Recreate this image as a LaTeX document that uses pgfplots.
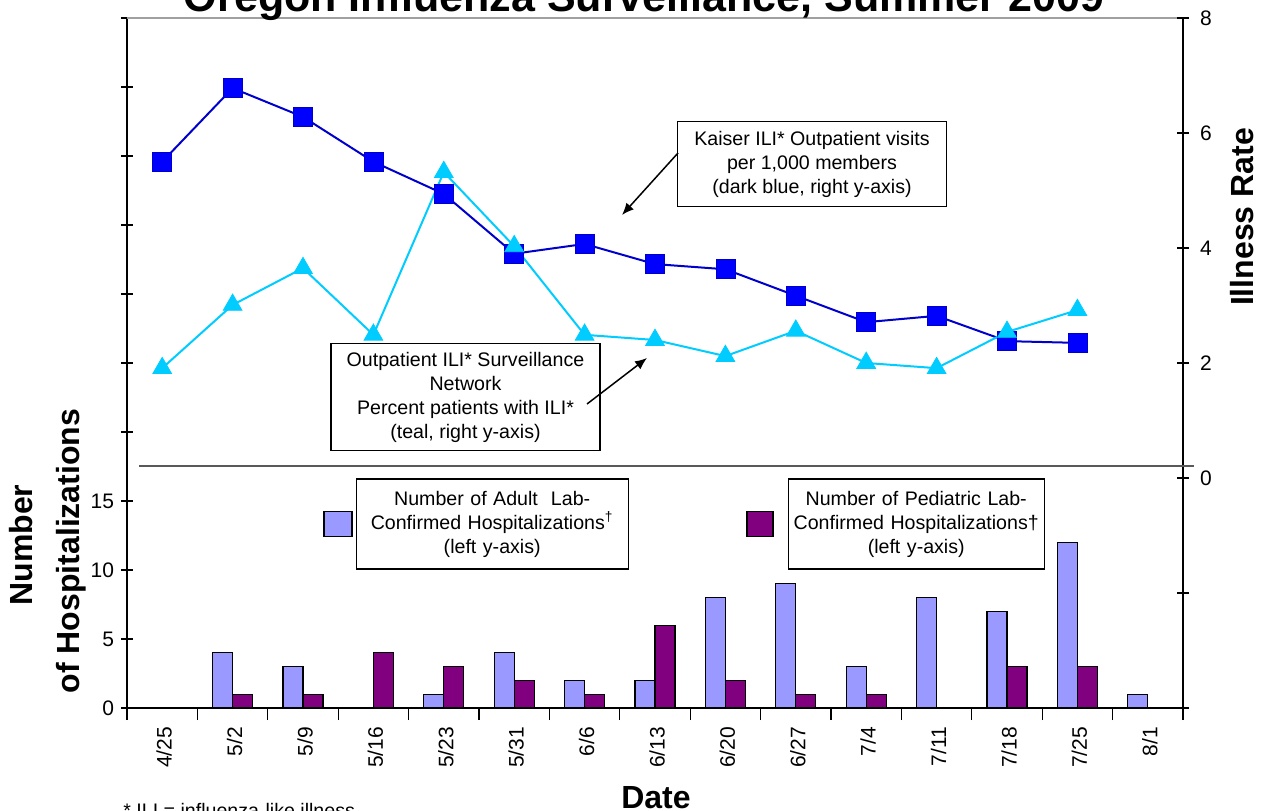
\documentclass[border=0pt]{standalone}
\usepackage{fontspec}
\setmainfont{Liberation Sans}
\usepackage{pgfplots}
\pgfplotsset{compat=1.18}
\usetikzlibrary{arrows.meta}
\definecolor{adult}{HTML}{9999FF}
\definecolor{ped}{HTML}{800080}
\definecolor{kaiser}{HTML}{0000CC}
\definecolor{kaiserm}{HTML}{0000FF}
\definecolor{tealline}{HTML}{00CCFF}
\definecolor{topgrey}{HTML}{A0A0A0}

\pgfplotstableread{
x adult
1 4
2 3
4 1
5 4
6 2
7 2
8 8
9 9
10 3
11 8
12 7
13 12
14 1
}\adulttable
\pgfplotstableread{
x ped
1 1
2 1
3 4
4 3
5 2
6 1
7 6
8 2
9 1
10 1
12 3
13 3
}\pedtable
\pgfplotstableread{
x rate
0 5.50
1 6.78
2 6.28
3 5.50
4 4.94
5 3.90
6 4.07
7 3.72
8 3.63
9 3.17
10 2.71
11 2.82
12 2.38
13 2.35
}\kaisertable
\pgfplotstableread{
x rate
0 1.91
1 3.01
2 3.65
3 2.49
4 5.32
5 4.03
6 2.49
7 2.40
8 2.12
9 2.56
10 2.00
11 1.91
12 2.54
13 2.92
}\ilitable

\newcommand{\annfont}{\fontsize{9.8}{12}\selectfont}
\newcommand{\tickfont}{\fontsize{10.5}{12}\selectfont}

\begin{document}
\begin{tikzpicture}
\pgfplotsset{
  common/.style={
    scale only axis, width=528pt, height=345pt,
    xmin=-0.5, xmax=14.5,
    tick align=center, major tick length=6pt, minor tick length=6pt,
    every tick/.style={black, line width=0.6pt},
    axis line style={black, line width=0.7pt},
    tick label style={font=\tickfont},
    /pgf/number format/assume math mode=true,
    clip=false,
  }
}
\begin{axis}[common,
  ymin=0, ymax=50,
  axis x line*=bottom, axis y line*=left,
  ybar=0pt, bar width=10pt,
  xtick={0,...,14},
  xticklabels={4/25,5/2,5/9,5/16,5/23,5/31,6/6,6/13,6/20,6/27,7/4,7/11,7/18,7/25,8/1},
  major x tick style={draw=none},
  minor xtick={-0.5,0.5,...,14.5},
  xticklabel style={rotate=90, anchor=east, font=\tickfont, yshift=-1pt},
  ytick={0,5,10,15},
  extra y ticks={20,25,30,35,40,45,50},
  extra y tick labels={},
  legend image code/.code={\draw[#1] (0pt,-6.25pt) rectangle (14pt,6.25pt);},
  legend style={at={(0.1856,0.2667)}, anchor=west, draw=none, fill=none,
    inner sep=0pt, column sep=1.5pt,
    nodes={draw=black, line width=0.6pt, fill=white, align=center,
      text width=132pt, minimum height=45pt, inner sep=2pt, font=\annfont,
      text height=, text depth=}},
]
\addplot[fill=adult, draw=black, line width=0.6pt] table[x=x, y=adult] {\adulttable};
\addlegendentry{Number of Adult\ \ Lab-\\Confirmed Hospitalizations\textsuperscript{†}\\(left y-axis)}
\addplot[fill=ped, draw=black, line width=0.6pt] table[x=x, y=ped] {\pedtable};
\draw[topgrey, line width=1pt] (rel axis cs:0,1) -- (rel axis cs:1,1);
\end{axis}

\begin{axis}[common,
  ymin=-4, ymax=8,
  axis y line*=right, hide x axis,
  ytick={0,2,4,6,8},
  extra y ticks={-4,-2},
  extra y tick labels={},
  yticklabel style={xshift=2pt},
  legend image code/.code={\draw[#1] (0pt,-6.25pt) rectangle (13pt,6.25pt);},
  legend style={at={(0.5862,0.2667)}, anchor=west, draw=none, fill=none,
    inner sep=0pt, column sep=7pt,
    nodes={draw=black, line width=0.6pt, fill=white, align=center,
      text width=124pt, minimum height=45pt, inner sep=2pt, font=\annfont,
      text height=, text depth=}},
]
\addlegendimage{fill=ped, draw=black, line width=0.6pt}
\addlegendentry{Number of Pediatric Lab-\\Confirmed Hospitalizations†\\(left y-axis)}
\addplot[forget plot, color=kaiser, line width=1pt, mark=square*,
  mark size=4.75pt, mark options={fill=kaiserm, draw=kaiser, line width=0.4pt}]
  table[x=x, y=rate] {\kaisertable};
\addplot[forget plot, color=tealline, line width=1pt, mark=triangle*,
  mark size=5.4pt, mark options={fill=tealline, draw=tealline, line width=0.4pt}]
  table[x=x, y=rate] {\ilitable};
\end{axis}

\begin{scope}[x=0.5pt, y=-0.5pt, shift={(-63.5pt,354pt)}]
  % separator
  \draw[black!65, line width=0.6pt] (139,466) -- (1194,466);
  % annotation boxes
  \node[draw, line width=0.6pt, fill=white, align=center, minimum width=134.5pt,
    minimum height=42.5pt, inner sep=1pt, font=\annfont] at (812,164)
    {Kaiser ILI* Outpatient visits\\per 1,000 members\\(dark blue, right y-axis)};
  \draw[line width=0.75pt, -{Latex[length=6pt,width=5pt]}] (678,153) -- (622,215);
  \node[draw, line width=0.6pt, fill=white, align=center, minimum width=134.5pt,
    minimum height=53.5pt, inner sep=1pt, font=\annfont] at (465.5,397)
    {Outpatient ILI* Surveillance\\Network\\Percent patients with ILI*\\(teal, right y-axis)};
  \draw[line width=0.75pt, -{Latex[length=6pt,width=5pt]}] (587,404) -- (647,358);
  % titles and labels
  \node[anchor=base, font=\fontsize{21.5}{24}\bfseries\selectfont] at (644,12)
    {Oregon Influenza Surveillance, Summer 2009};
  \node[anchor=base, font=\fontsize{16}{19}\bfseries\selectfont] at (656,808) {Date};
  \node[anchor=base, rotate=90, font=\fontsize{16}{19}\bfseries\selectfont] at (33,545) {Number};
  \node[anchor=base, rotate=90, font=\fontsize{16}{19}\bfseries\selectfont] at (80,551) {of Hospitalizations};
  \node[anchor=base, rotate=90, font=\fontsize{16}{19}\bfseries\selectfont] at (1253,217) {Illness Rate};
  \node[anchor=base west, inner sep=0pt, font=\annfont] at (123,817) {* ILI = influenza-like illness};
  \pgfresetboundingbox
  \path[use as bounding box] (0,0) rectangle (1269,810);
\end{scope}
\end{tikzpicture}
\end{document}
